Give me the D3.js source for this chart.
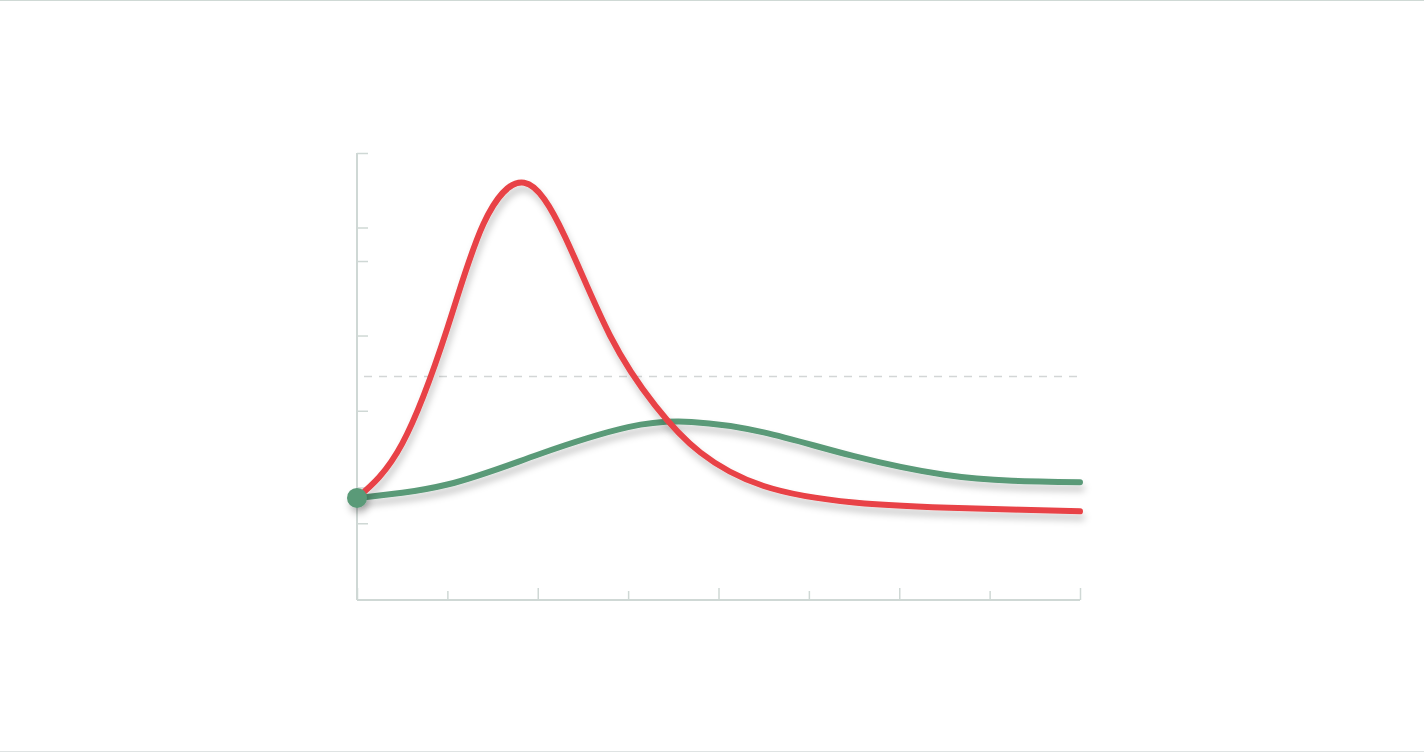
<!DOCTYPE html>
<html>
<head>
<meta charset="utf-8">
<script src="https://cdn.jsdelivr.net/npm/d3@7"></script>
<style>
  html, body { margin: 0; padding: 0; background: #fff; }
  body { width: 1424px; height: 752px; overflow: hidden; position: relative;
         border-top: 1px solid #cfd9d5; border-bottom: 1px solid #dfe3e3; box-sizing: border-box; }
  svg { display: block; }
</style>
</head>
<body>
<div id="chart"></div>
<script>
// values (x: time units 0..8, y: level units)
let xTicks = [0, 1, 2, 3, 4, 5, 6, 7, 8];
let xMajor = [0, 2, 4, 6, 8];
let yTicks = [1.03, 1.51, 2.54, 3.55, 4.55, 5.0, 6.0];
let threshold = 3.0;

let redX = [0, 0.5, 1.0, 1.4, 1.85, 2.3, 2.8, 3.3, 3.8, 4.5, 5.5, 6.75, 8.0];
let redY = [1.37, 2.1, 3.65, 5.05, 5.6, 4.88, 3.55, 2.61, 1.98, 1.53, 1.31, 1.23, 1.19];

let greenX = [0, 1.0, 2.0, 3.0, 3.7, 4.5, 5.5, 6.5, 7.25, 8.0];
let greenY = [1.37, 1.55, 1.95, 2.32, 2.39, 2.25, 1.93, 1.68, 1.60, 1.58];

let W = 1424, H = 750;
let svg = d3.select('#chart').append('svg').attr('width', W).attr('height', H);

let x = d3.scaleLinear().domain([0, 8]).range([357, 1080]);
let y = d3.scaleLinear().domain([0, 6]).range([599, 152]);

let defs = svg.append('defs');
defs.append('filter').attr('id', 'shadow')
    .attr('filterUnits', 'userSpaceOnUse')
    .attr('x', 0).attr('y', 0).attr('width', W).attr('height', H)
    .append('feDropShadow')
    .attr('dx', 2).attr('dy', 6).attr('stdDeviation', 3.5)
    .attr('flood-color', '#000').attr('flood-opacity', 0.22);

let axisColor = '#cfd8d5';

// y axis
let yAxis = svg.append('g').attr('transform', 'translate(357,0)')
    .call(d3.axisRight(y).tickValues(yTicks).tickSize(11).tickFormat(''));
yAxis.select('.domain').remove();
yAxis.selectAll('line').attr('stroke', axisColor).attr('stroke-width', 1.5);
svg.append('line')
    .attr('x1', 357).attr('x2', 357).attr('y1', y(6)).attr('y2', y(0))
    .attr('stroke', axisColor).attr('stroke-width', 2);

// x axis
let xAxis = svg.append('g').attr('transform', `translate(0,${y(0)})`)
    .call(d3.axisTop(x).tickValues(xTicks).tickSize(9).tickFormat(''));
xAxis.select('.domain').remove();
xAxis.selectAll('.tick line')
    .attr('y2', d => xMajor.includes(d) ? -12 : -9)
    .attr('stroke', axisColor).attr('stroke-width', 1.5);
svg.append('line')
    .attr('x1', x(0)).attr('x2', x(8)).attr('y1', y(0)).attr('y2', y(0))
    .attr('stroke', axisColor).attr('stroke-width', 2);

// threshold
svg.append('line')
    .attr('x1', x(0) + 7).attr('x2', x(8)).attr('y1', y(threshold)).attr('y2', y(threshold))
    .attr('stroke', '#d3d6d6').attr('stroke-width', 1.5).attr('stroke-dasharray', '8,7');

let line = d3.line().x(d => x(d[0])).y(d => y(d[1])).curve(d3.curveNatural);

svg.append('path')
    .datum(d3.zip(greenX, greenY))
    .attr('d', line)
    .attr('fill', 'none').attr('stroke', '#5a9a78').attr('stroke-width', 6)
    .attr('stroke-linecap', 'round').attr('filter', 'url(#shadow)');

svg.append('path')
    .datum(d3.zip(redX, redY))
    .attr('d', line)
    .attr('fill', 'none').attr('stroke', '#e84346').attr('stroke-width', 6)
    .attr('stroke-linecap', 'round').attr('filter', 'url(#shadow)');

svg.append('circle')
    .attr('cx', x(greenX[0])).attr('cy', y(greenY[0])).attr('r', 10)
    .attr('fill', '#5a9a78').attr('filter', 'url(#shadow)');
</script>
</body>
</html>
